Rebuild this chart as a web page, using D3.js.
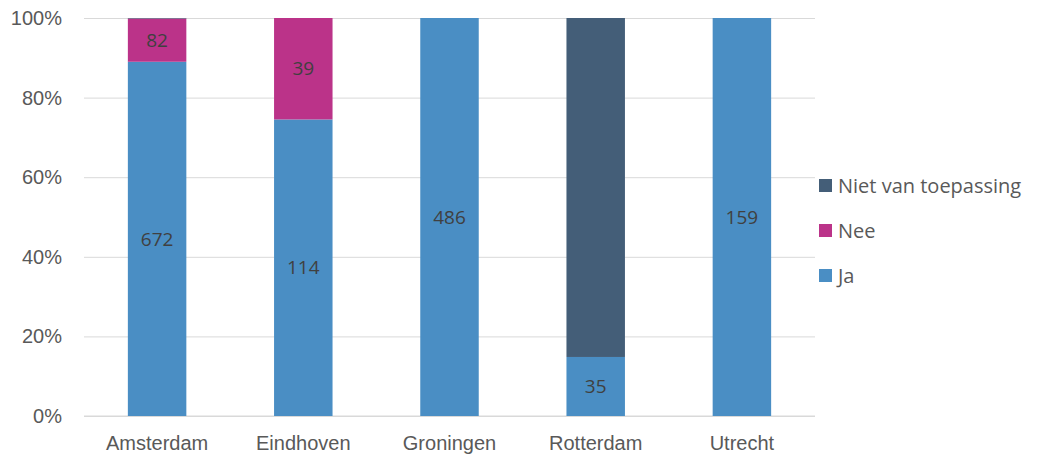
<!DOCTYPE html>
<html lang="nl">
<head>
  <meta charset="utf-8">
  <script src="https://d3js.org/d3.v7.min.js"></script>
  <style>
    body { margin: 0; background: #fff; font-family: "Open Sans", sans-serif; }
    .tick text { fill: #595959; font-size: 20px; }
    .tick line { stroke: #d9d9d9; }
    .domain { display: none; }
  </style>
</head>
<body>
  <script>
    // data
    var cities = ["Amsterdam", "Eindhoven", "Groningen", "Rotterdam", "Utrecht"];
    var ja = [672, 114, 486, 35, 159];
    var nee = [82, 39, 0, 0, 0];
    var niet = [1, 0, 0, 201, 0];
    var series = ["Ja", "Nee", "Niet van toepassing"];
    var colors = ["#4a8ec4", "#bb3389", "#445e78"];
    var showLabel = [true, true, false];
    var yTicks = [0, 0.2, 0.4, 0.6, 0.8, 1];

    var width = 1037, height = 459;
    var margin = { top: 18, right: 222, bottom: 43, left: 84 };

    var svg = d3.select("body").append("svg")
      .attr("width", width)
      .attr("height", height);

    var rows = cities.map(function(c, i) {
      return { city: c, "Ja": ja[i], "Nee": nee[i], "Niet van toepassing": niet[i] };
    });

    var stack = d3.stack().keys(series).offset(d3.stackOffsetExpand);
    var layers = stack(rows);

    var x = d3.scaleBand()
      .domain(cities)
      .range([margin.left, width - margin.right])
      .paddingInner(0.6)
      .paddingOuter(0.3);

    var y = d3.scaleLinear()
      .domain([0, 1])
      .range([height - margin.bottom, margin.top]);

    // gridlines + y labels
    svg.append("g")
      .attr("transform", "translate(" + margin.left + ",0)")
      .call(d3.axisLeft(y).tickValues(yTicks).tickFormat(d3.format(".0%"))
        .tickSize(-(width - margin.right - margin.left)).tickPadding(22));

    // x labels
    svg.append("g")
      .attr("transform", "translate(0," + (height - margin.bottom) + ")")
      .call(d3.axisBottom(x).tickSize(0).tickPadding(20));

    svg.append("line")
      .attr("x1", margin.left).attr("x2", width - margin.right)
      .attr("y1", y(0)).attr("y2", y(0))
      .attr("stroke", "#d9d9d9");

    var g = svg.selectAll(".layer")
      .data(layers)
      .enter().append("g")
      .attr("fill", function(d, i) { return colors[i]; });

    g.selectAll("rect")
      .data(function(d) { return d; })
      .enter().append("rect")
      .attr("x", function(d) { return x(d.data.city); })
      .attr("width", x.bandwidth())
      .attr("y", function(d) { return y(d[1]); })
      .attr("height", function(d) { return y(d[0]) - y(d[1]); });

    // data labels
    layers.forEach(function(layer, i) {
      if (!showLabel[i]) return;
      svg.append("g").selectAll("text")
        .data(layer.filter(function(d) { return d.data[layer.key] > 0; }))
        .enter().append("text")
        .attr("x", function(d) { return x(d.data.city) + x.bandwidth() / 2; })
        .attr("y", function(d) { return (y(d[0]) + y(d[1])) / 2; })
        .attr("dy", "0.35em")
        .attr("text-anchor", "middle")
        .attr("fill", "#404040")
        .attr("font-size", "19px")
        .text(function(d) { return d.data[layer.key]; });
    });

    // legend
    var legend = svg.append("g")
      .attr("transform", "translate(819,186)");
    var items = legend.selectAll("g")
      .data(series.slice().reverse())
      .enter().append("g")
      .attr("transform", function(d, i) { return "translate(0," + (i * 45) + ")"; });
    items.append("rect")
      .attr("y", -7)
      .attr("width", 13).attr("height", 13)
      .attr("fill", function(d) { return colors[series.indexOf(d)]; });
    items.append("text")
      .attr("x", 19)
      .attr("dy", "0.35em")
      .attr("fill", "#595959")
      .attr("font-size", "20px")
      .text(function(d) { return d; });
  </script>
</body>
</html>
